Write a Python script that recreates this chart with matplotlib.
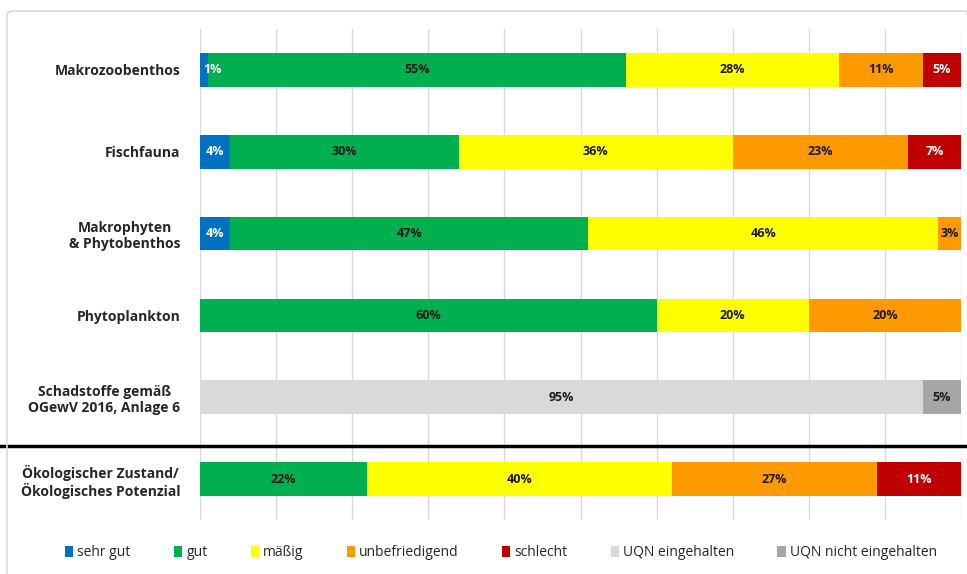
import matplotlib
matplotlib.use('Agg')
import matplotlib.pyplot as plt
from matplotlib.patches import FancyBboxPatch, Patch

plt.rcParams['font.family'] = ['Open Sans', 'DejaVu Sans']

categories = ['Makrozoobenthos', 'Fischfauna', 'Makrophyten\n& Phytobenthos',
              'Phytoplankton', 'Schadstoffe gemäß\nOGewV 2016, Anlage 6',
              'Ökologischer Zustand/\nÖkologisches Potenzial']
classes = ['sehr gut', 'gut', 'mäßig', 'unbefriedigend', 'schlecht',
           'UQN eingehalten', 'UQN nicht eingehalten']
sehr_gut = [1, 4, 4, 0, 0, 0]
gut = [55, 30, 47, 60, 0, 22]
maessig = [28, 36, 46, 20, 0, 40]
unbefriedigend = [11, 23, 3, 20, 0, 27]
schlecht = [5, 7, 0, 0, 0, 11]
uqn_ein = [0, 0, 0, 0, 95, 0]
uqn_nicht = [0, 0, 0, 0, 5, 0]

series = [sehr_gut, gut, maessig, unbefriedigend, schlecht, uqn_ein, uqn_nicht]
colors = ['#0070C0', '#00B050', '#FFFF00', '#FF9900', '#C00000', '#D9D9D9', '#A6A6A6']
text_colors = ['white', '#1a1a1a', '#1a1a1a', '#1a1a1a', 'white', '#1a1a1a', '#1a1a1a']

fig = plt.figure(figsize=(9.67, 5.74), dpi=100)
fig.patches.append(FancyBboxPatch((7 / 967, -0.1), 1.0, 1 - 11 / 574 + 0.1,
                                  boxstyle='round,pad=0,rounding_size=0.008',
                                  transform=fig.transFigure, fill=False,
                                  edgecolor='#d9d9d9', linewidth=1.2))
ax = fig.add_axes([200 / 967, 1 - 520 / 574, 761 / 967, 491 / 574])

y = list(range(len(categories)))
left = [0] * len(categories)
for vals, col, tcol in zip(series, colors, text_colors):
    ax.barh(y, vals, left=left, height=0.41, color=col, zorder=2)
    for i, v in enumerate(vals):
        if v <= 0:
            continue
        if v < 3:
            ax.text(left[i] + 0.4, y[i], f'{v}%', ha='left', va='center',
                    color=tcol, fontsize=9, fontweight='bold', zorder=3)
        else:
            ax.text(left[i] + v / 2, y[i], f'{v}%', ha='center', va='center',
                    color=tcol, fontsize=9, fontweight='bold', zorder=3)
    left = [a + b for a, b in zip(left, vals)]

ax.set_xlim(0, 100)
ax.set_ylim(len(categories) - 0.5, -0.5)
ax.set_xticks(range(0, 101, 10))
ax.set_xticklabels([])
ax.tick_params(axis='both', length=0)
ax.grid(axis='x', color='#d9d9d9', linewidth=1, zorder=0)
ax.set_yticks(y)
ax.set_yticklabels(categories, fontsize=10, fontweight='bold', color='#262626',
                   multialignment='center')
ax.tick_params(axis='y', pad=14)
for s in ax.spines.values():
    s.set_visible(False)

ax.axhline(4.6, xmin=-0.262, xmax=1.01, color='black', linewidth=2.5, clip_on=False, zorder=4)

handles = [Patch(facecolor=c, edgecolor='none') for c in colors]
fig.legend(handles, classes, loc='center', bbox_to_anchor=(0.518, 1 - 553 / 574),
           ncol=7, frameon=False, fontsize=10, handlelength=0.6, handleheight=0.9,
           handletextpad=0.3, columnspacing=3.1, labelcolor='#262626')

fig.savefig('out.png', dpi=100, facecolor='white')
